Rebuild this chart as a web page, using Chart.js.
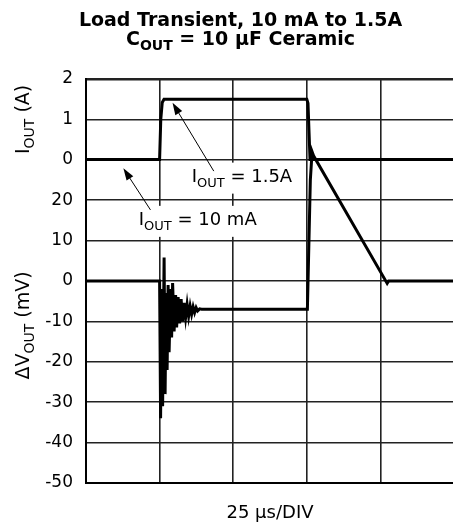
<!DOCTYPE html>
<html lang="en">
<head>
<meta charset="UTF-8">
<title>Load Transient, 10 mA to 1.5A</title>
<script src="https://cdn.jsdelivr.net/npm/chart.js@4"></script>
<style>
  html, body { margin: 0; padding: 0; background: #fff; }
  #wrap { position: relative; width: 453px; height: 531px; overflow: hidden; }
  #chart { position: absolute; left: 0; top: 0; }
  .ttl { position: absolute; left: 0; width: 481px; text-align: center; font: bold 19px "DejaVu Sans", sans-serif; line-height: 22px; color: #000; white-space: nowrap; }
  .ttl .sub { font-size: 14px; position: relative; top: 5px; }
</style>
</head>
<body>
<div id="wrap">
  <canvas id="chart" width="458" height="531"></canvas>
  <div class="ttl" style="top:8px">Load Transient, 10 mA to 1.5A</div>
  <div class="ttl" style="top:27px">C<span class="sub">OUT</span> = 10 µF Ceramic</div>
</div>

<script>
// time axis, µs (25 µs per division)
const timeMin = 0, timeMax = 125, timeStep = 25;

// output current trace (A)
const tCurrent = [0, 25, 25.4, 25.9, 26.5, 75.0, 75.4, 75.9, 76.1, 125];
const iOut     = [0.01, 0.01, 1.0, 1.42, 1.5, 1.5, 1.4, 0.4, 0.01, 0.01];

// output voltage deviation trace (mV)
const tVoltage = [0, 25, 25.34, 25.68, 26.02, 26.53, 26.87, 27.21, 27.55, 27.89, 28.23, 28.74,
                  29.08, 29.42, 29.93, 30.44, 30.78, 31.29, 31.8, 32.31, 32.82, 33.33, 33.84,
                  34.35, 34.86, 35.37, 35.88, 36.39, 36.9, 37.41, 37.92, 38.6, 39.28,
                  75.2, 76.2, 76.8, 77.3, 102.3, 102.8, 125];
const dVout    = [0, 0, -34, -2, -31, 5.8, -28, -3, -22, -1, -17.6, -2,
                  -14, -0.5, -12.5, -3.5, -11.5, -4, -10.5, -4.5, -10, -5.4, -9,
                  -5.8, -8.7, -6.2, -8.2, -6.4, -7.8, -6.6, -7.4, -6.9, -7,
                  -7, 25, 32, 31, -0.6, 0, 0];

// axis ranges / tick labels
const mvMin = -50, mvMax = 50, mvStep = 10;
const mvLabelMax = 20;            // mV ticks above this show current instead
const ampMin = -8, ampMax = 2;    // current axis shares the same grid
const ampTicks = [0, 1, 2];

function pts(xs, ys) { return xs.map((x, i) => ({ x: x, y: ys[i] })); }

const FONT = '"DejaVu Sans", sans-serif';

// text with subscript, drawn on canvas
function subText(ctx, parts, x, y, align) {
  let w = 0;
  parts.forEach(p => { ctx.font = p.size + 'px ' + FONT; p.w = ctx.measureText(p.t).width; w += p.w; });
  let cx = align === 'center' ? x - w / 2 : x;
  parts.forEach(p => {
    ctx.font = p.size + 'px ' + FONT;
    ctx.fillText(p.t, cx, y + (p.dy || 0));
    cx += p.w;
  });
  return w;
}

const notes = [
  { parts: [{t: 'I', size: 18}, {t: 'OUT', size: 13, dy: 5}, {t: ' = 1.5A', size: 18}],
    at: [35.9, 24.6], tail: [43.4, 27.2], tip: [29.4, 44.1] },
  { parts: [{t: 'I', size: 18}, {t: 'OUT', size: 13, dy: 5}, {t: ' = 10 mA', size: 18}],
    at: [17.9, 13.9], tail: [21.9, 17.6], tip: [12.7, 27.9] }
];

const axisTitles = [
  { parts: [{t: 'I', size: 19}, {t: 'OUT', size: 14, dy: 5}, {t: ' (A)', size: 19}], mid: 1, scale: 'yI' },
  { parts: [{t: 'ΔV', size: 19}, {t: 'OUT', size: 14, dy: 5}, {t: ' (mV)', size: 19}], mid: -11, scale: 'y' }
];

const overlay = {
  id: 'overlay',
  afterDatasetsDraw(chart) {
    const ctx = chart.ctx, xs = chart.scales.x, ys = chart.scales.y;
    ctx.save();
    ctx.fillStyle = '#000';
    ctx.textBaseline = 'alphabetic';
    notes.forEach(n => {
      const x = xs.getPixelForValue(n.at[0]), y = ys.getPixelForValue(n.at[1]);
      let w = 0;
      n.parts.forEach(p => { ctx.font = p.size + 'px ' + FONT; w += ctx.measureText(p.t).width; });
      ctx.fillStyle = '#fff';
      ctx.fillRect(x - 3, y - 19, w + 6, 31);
      ctx.fillStyle = '#000';
      subText(ctx, n.parts, x, y, 'left');
      // arrow
      const x1 = xs.getPixelForValue(n.tail[0]), y1 = ys.getPixelForValue(n.tail[1]);
      const x2 = xs.getPixelForValue(n.tip[0]), y2 = ys.getPixelForValue(n.tip[1]);
      const a = Math.atan2(y2 - y1, x2 - x1);
      ctx.strokeStyle = '#000';
      ctx.lineWidth = 1;
      ctx.beginPath(); ctx.moveTo(x1, y1); ctx.lineTo(x2 - 8 * Math.cos(a), y2 - 8 * Math.sin(a)); ctx.stroke();
      ctx.beginPath();
      ctx.moveTo(x2, y2);
      ctx.lineTo(x2 - 12 * Math.cos(a) + 4 * Math.sin(a), y2 - 12 * Math.sin(a) - 4 * Math.cos(a));
      ctx.lineTo(x2 - 12 * Math.cos(a) - 4 * Math.sin(a), y2 - 12 * Math.sin(a) + 4 * Math.cos(a));
      ctx.closePath(); ctx.fill();
    });
    // rotated axis titles
    axisTitles.forEach(a => {
      const cy = chart.scales[a.scale].getPixelForValue(a.mid);
      ctx.save();
      ctx.translate(29, cy);
      ctx.rotate(-Math.PI / 2);
      subText(ctx, a.parts, 0, 0, 'center');
      ctx.restore();
    });
    ctx.restore();
  }
};

new Chart(document.getElementById('chart'), {
  type: 'line',
  data: {
    datasets: [
      { label: 'IOUT', data: pts(tCurrent, iOut), yAxisID: 'yI',
        borderColor: '#000', borderWidth: 3, pointRadius: 0, tension: 0, fill: false },
      { label: 'ΔVOUT', data: pts(tVoltage, dVout), yAxisID: 'y',
        borderColor: '#000', borderWidth: 3, pointRadius: 0, tension: 0, fill: false }
    ]
  },
  options: {
    responsive: false,
    animation: false,
    layout: { padding: { top: 79, right: 4, left: 0, bottom: 0 } },
    plugins: { legend: { display: false }, tooltip: { enabled: false } },
    scales: {
      x: {
        type: 'linear', min: timeMin, max: timeMax,
        ticks: { display: false, stepSize: timeStep },
        grid: { color: '#222', lineWidth: 1.6, drawTicks: false },
        border: { display: true, color: '#000', width: 2 },
        title: { display: true, text: '25 µs/DIV', color: '#000',
                 font: { family: FONT, size: 18 }, padding: { top: 0, bottom: 7 } },
        afterFit(s) { s.height = 48; }
      },
      y: {
        min: mvMin, max: mvMax,
        ticks: {
          stepSize: mvStep, color: '#000', padding: 13,
          font: { family: FONT, size: 17 },
          callback(v) {
            if (v <= mvLabelMax) return String(v);
            const a = ampMin + (v - mvMin) / (mvMax - mvMin) * (ampMax - ampMin);
            const hit = ampTicks.find(t => Math.abs(t - a) < 1e-6);
            return hit === undefined ? '' : String(hit);
          }
        },
        grid: { color: '#222', lineWidth: c => (c.tick && c.tick.value === mvMax ? 2.5 : 1.5), drawTicks: false },
        border: { display: true, color: '#000', width: 2 },
        afterFit(s) { s.width = 86; }
      },
      yI: { min: ampMin, max: ampMax, display: false }
    }
  },
  plugins: [overlay]
});
</script>
</body>
</html>
